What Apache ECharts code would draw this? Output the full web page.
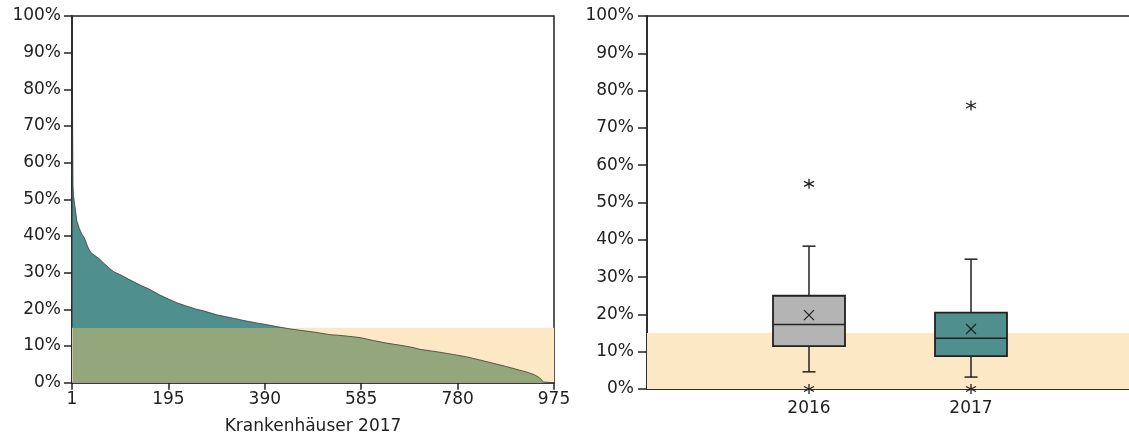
<!DOCTYPE html>
<html><head><meta charset="utf-8">
<script src="https://cdn.jsdelivr.net/npm/echarts@6/dist/echarts.min.js"></script>
<style>html,body{margin:0;padding:0;background:#fff}#c{width:1129px;height:440px}</style>
</head><body><div id="c"></div>
<script>
// ---- data ----
const rankTickLabels = ['1', '195', '390', '585', '780', '975'];
const hospitalRank = [1, 2, 3, 5, 8, 10, 15, 20, 25, 32, 38, 45, 55, 65, 75, 85, 100, 115, 125, 140, 158, 178, 192, 212, 230, 250, 266, 293, 326, 350, 374, 395, 414, 440, 461, 490, 522, 550, 583, 610, 636, 665, 690, 704, 740, 771, 800, 825, 852, 879, 906, 920, 935, 945, 950, 953, 954, 975];
const hospitalShare = [76, 54, 51, 49, 46, 44, 42, 40.5, 39.5, 37, 35.5, 34.8, 33.8, 32.5, 31.3, 30.2, 29.3, 28.2, 27.5, 26.5, 25.4, 23.9, 23.0, 21.8, 21.0, 20.1, 19.6, 18.5, 17.6, 16.9, 16.3, 15.8, 15.3, 14.7, 14.3, 13.8, 13.1, 12.8, 12.3, 11.5, 10.8, 10.2, 9.6, 9.1, 8.4, 7.7, 7.0, 6.2, 5.3, 4.4, 3.4, 2.9, 2.2, 1.4, 0.8, 0.2, 0, 0];
const referenceUpper = 15;
const years = ['2016', '2017'];
const boxMin = [4.6, 3.2];
const boxQ1 = [11.5, 8.8];
const boxMedian = [17.3, 13.6];
const boxQ3 = [25.0, 20.5];
const boxMax = [38.3, 34.8];
const boxMean = [19.8, 16.1];
const outliers2016 = [55, 0];
const outliers2017 = [76, 0];

// ---- styles ----
const FONT = 'DejaVu Sans';
const TXT = '#222';
const TEAL = '#4f8f8d';
const OLIVE = '#94a67c';
const CREAM = '#fde8c5';
const GREY = '#b4b4b4';
const boxColors = [GREY, TEAL];

const chart = echarts.init(document.getElementById('c'), null, {renderer: 'canvas'});

const areaData = hospitalRank.map((r, i) => [r, hospitalShare[i]]);
const maxShare = Math.max(...hospitalShare);
const splitOffset = 1 - referenceUpper / maxShare; // position of the 15% line inside the area's bounding box
const areaFill = new echarts.graphic.LinearGradient(0, 0, 0, 1, [
  {offset: 0, color: TEAL},
  {offset: splitOffset, color: TEAL},
  {offset: splitOffset, color: OLIVE},
  {offset: 1, color: OLIVE}
]);

const boxData = years.map((y, i) => [i + 1, boxMin[i], boxQ1[i], boxMedian[i], boxQ3[i], boxMax[i], boxMean[i]]);
const outlierData = [
  ...outliers2016.map(v => [1, v]),
  ...outliers2017.map(v => [2, v])
];
const xCats = ['', ...years, ''];

function renderBox(params, api) {
  const x = api.value(0);
  const c = v => api.coord([x, v]);
  const pMin = c(api.value(1)), pQ1 = c(api.value(2)), pMed = c(api.value(3)),
        pQ3 = c(api.value(4)), pMax = c(api.value(5)), pMean = c(api.value(6));
  const cx = pMin[0], hw = 36, cap = 6.5, m = 5;
  const st = {stroke: '#222', lineWidth: 1.5};
  return {
    type: 'group',
    children: [
      {type: 'line', shape: {x1: cx, y1: pQ3[1], x2: cx, y2: pMax[1]}, style: st},
      {type: 'line', shape: {x1: cx - cap, y1: pMax[1], x2: cx + cap, y2: pMax[1]}, style: st},
      {type: 'line', shape: {x1: cx, y1: pQ1[1], x2: cx, y2: pMin[1]}, style: st},
      {type: 'line', shape: {x1: cx - cap, y1: pMin[1], x2: cx + cap, y2: pMin[1]}, style: st},
      {type: 'rect', shape: {x: cx - hw, y: pQ3[1], width: 2 * hw, height: pQ1[1] - pQ3[1]},
        style: {fill: boxColors[params.dataIndex], stroke: '#222', lineWidth: 1.8}},
      {type: 'line', shape: {x1: cx - hw, y1: pMed[1], x2: cx + hw, y2: pMed[1]}, style: st},
      {type: 'line', shape: {x1: cx - m, y1: pMean[1] - m, x2: cx + m, y2: pMean[1] + m}, style: {stroke: '#222', lineWidth: 1.3}},
      {type: 'line', shape: {x1: cx + m, y1: pMean[1] - m, x2: cx - m, y2: pMean[1] + m}, style: {stroke: '#222', lineWidth: 1.3}}
    ]
  };
}

const yAxisCommon = {
  type: 'value', min: 0, max: 100, interval: 10,
  axisLine: {show: true, lineStyle: {color: '#222', width: 1.5}},
  axisTick: {show: true, length: 8, lineStyle: {color: '#222', width: 1.5}},
  splitLine: {show: false},
  axisLabel: {formatter: '{value}%', color: TXT, fontFamily: FONT, fontSize: 17, margin: 11}
};

chart.setOption({
  animation: false,
  grid: [
    {left: 72, top: 16, width: 482, height: 366.7, show: true, borderColor: '#222', borderWidth: 1.5, containLabel: false, outerBoundsMode: 'none'},
    {left: 647, top: 16, width: 486, height: 373, show: true, borderColor: '#222', borderWidth: 1.5, containLabel: false, outerBoundsMode: 'none'}
  ],
  xAxis: [
    {
      gridIndex: 0, type: 'value', min: 0, max: 975, interval: 195,
      name: 'Krankenhäuser 2017', nameLocation: 'middle', nameGap: 35,
      nameTextStyle: {color: TXT, fontFamily: FONT, fontSize: 17},
      axisLine: {show: true, lineStyle: {color: '#222', width: 1.5}},
      axisTick: {show: true, length: 7, lineStyle: {color: '#222', width: 1.5}},
      splitLine: {show: false},
      axisLabel: {color: TXT, fontFamily: FONT, fontSize: 17, margin: 8,
        formatter: v => rankTickLabels[Math.round(v / 195)]}
    },
    {
      gridIndex: 1, type: 'category', data: xCats, boundaryGap: false,
      axisLine: {show: true, lineStyle: {color: '#222', width: 1.5}},
      axisTick: {show: false},
      splitLine: {show: false},
      axisLabel: {color: TXT, fontFamily: FONT, fontSize: 17, margin: 11, interval: 0}
    }
  ],
  yAxis: [
    Object.assign({gridIndex: 0}, yAxisCommon),
    Object.assign({gridIndex: 1}, yAxisCommon, {
      axisTick: {show: true, length: 9, lineStyle: {color: '#222', width: 1.5}},
      axisLabel: {formatter: '{value}%', color: TXT, fontFamily: FONT, fontSize: 17, margin: 13}
    })
  ],
  series: [
    {
      type: 'line', xAxisIndex: 0, yAxisIndex: 0, z: 1, silent: true,
      data: [[0, referenceUpper], [975, referenceUpper]],
      symbol: 'none', lineStyle: {width: 0},
      areaStyle: {color: CREAM, opacity: 1}
    },
    {
      type: 'line', xAxisIndex: 0, yAxisIndex: 0, z: 2, silent: true,
      data: areaData, symbol: 'none',
      lineStyle: {width: 0},
      areaStyle: {color: areaFill, opacity: 1}
    },
    {
      type: 'line', xAxisIndex: 0, yAxisIndex: 0, z: 3, silent: true,
      data: areaData, symbol: 'none',
      lineStyle: {width: 1, color: '#333', opacity: 0.75}
    },
    {
      type: 'line', xAxisIndex: 1, yAxisIndex: 1, z: 1, silent: true,
      data: xCats.map(() => referenceUpper),
      symbol: 'none', lineStyle: {width: 0},
      areaStyle: {color: CREAM, opacity: 1}
    },
    {
      type: 'custom', xAxisIndex: 1, yAxisIndex: 1, z: 3, silent: true,
      data: boxData, renderItem: renderBox,
      encode: {x: 0, y: [1, 2, 3, 4, 5, 6]}
    },
    {
      type: 'scatter', xAxisIndex: 1, yAxisIndex: 1, z: 4, silent: true,
      data: outlierData,
      symbol: 'path://M5,0L5,10M0.67,2.5L9.33,7.5M0.67,7.5L9.33,2.5',
      symbolSize: 10,
      itemStyle: {color: 'rgba(0,0,0,0)', borderColor: '#222', borderWidth: 1.3, opacity: 1}
    }
  ]
});
</script>
</body></html>
